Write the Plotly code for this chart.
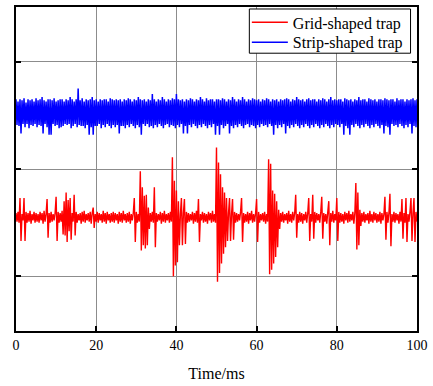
import plotly.graph_objects as go

# Time step of the sampled signals (ms)
red_dt = 0.25
blue_dt = 0.25

# Grid-shaped trap signal (arbitrary units)
grid_signal = [
    -41, -49, -40, -50, -27, -67, -42, -48, -27, -67, -40, -50, -41, -49, -39, -51, -42, -48, -40, -50,
    -41, -49, -42, -50, -40, -48, -41, -51, -39, -49, -42, -28, -64, -41, -50, -40, -49, -42, -48, -41,
    -26, -67, -40, -50, -41, -49, -39, -61, -30, -62, -22, -68, -29, -58, -27, -66, -41, -49, -24, -62,
    -40, -50, -42, -48, -41, -51, -40, -49, -39, -50, -42, -48, -41, -49, -40, -51, -41, -36, -55, -42,
    -49, -40, -50, -41, -48, -42, -50, -39, -49, -41, -51, -40, -48, -42, -50, -41, -49, -40, -50, -41,
    -48, -42, -51, -40, -49, -41, -50, -39, -48, -42, -50, -41, -49, -40, -51, -42, -48, -41, -27, -68,
    -40, -50, -42, -49, -2, -76, -17, -71, -25, -74, -24, -71, -36, -56, -41, -49, -40, -50, -17, -73,
    -41, -49, -42, -48, -40, -51, -41, -49, -39, -50, -42, -48, -41, -50, -40, -49, 11, -100, -11, -90,
    -20, -87, -30, -71, -42, -27, -71, -41, -28, -70, -40, -50, -41, -49, -42, -48, -40, -51, -41, -49,
    -39, -50, -28, -68, -42, -48, -40, -50, -41, -49, -42, -51, -40, -48, -41, -50, -39, -49, -42, -50,
    20, -105, 6, -97, -5, -88, -17, -79, -22, -73, -27, -67, -41, -27, -67, -42, -28, -66, -40, -50,
    -41, -49, -42, -48, -40, -27, -68, -41, -50, -42, -49, -40, -51, -41, -48, -39, -50, -42, -49, -41,
    -28, -68, -40, -50, -42, -48, -41, -49, -40, -51, -42, -49, 9, -98, 5, -94, -20, -88, -23, -82,
    -30, -73, -38, -56, -41, -49, -40, -50, -42, -48, -41, -51, -39, -49, -42, -50, -40, -48, -41, -24,
    -64, -42, -50, -40, -49, -41, -51, -42, -48, -40, -50, -41, -27, -67, -42, -49, -24, -65, -40, -50,
    -41, -48, -42, -50, -40, -26, -65, -41, -49, -42, -51, -40, -30, -71, -41, -49, -39, -50, -42, -48,
    -27, -67, -40, -50, -41, -49, -42, -51, -40, -48, -41, -50, -39, -49, -42, -48, -40, -51, -41, -13,
    -75, -22, -71, -38, -53, -41, -49, -40, -50, -42, -48, -41, -51, -39, -49, -42, -50, -40, -48, -41,
    -50, -42, -49, -40, -51, -41, -48, -42, -26, -66, -40, -50, -41, -23, -72, -42, -49, -40, -50, -41,
    -48, -42, -51, -40, -49, -28, -65, -41, -50, -27, -68, -42, -49, -40, -27, -67, -41, -27, -68, -40,
    -49,
]

# Strip-shaped trap signal (arbitrary units)
strip_signal = [
    65, 41, 63, 40, 65, 33, 64, 42, 66, 39, 62, 42, 65, 38, 64, 41, 65, 40, 63, 42,
    66, 39, 64, 41, 65, 40, 67, 33, 64, 42, 63, 39, 65, 32, 65, 32, 64, 42, 66, 40,
    63, 41, 64, 38, 65, 39, 65, 40, 63, 42, 65, 41, 64, 42, 67, 38, 65, 40, 63, 42,
    65, 39, 75, 41, 64, 40, 66, 40, 63, 38, 65, 41, 64, 32, 65, 39, 67, 32, 64, 40,
    65, 40, 63, 42, 65, 38, 64, 41, 65, 39, 65, 42, 63, 40, 66, 38, 65, 41, 64, 39,
    65, 41, 64, 33, 65, 40, 63, 40, 65, 38, 64, 41, 66, 39, 65, 42, 63, 40, 65, 38,
    64, 41, 67, 39, 65, 32, 64, 42, 65, 40, 63, 42, 65, 39, 64, 40, 70, 38, 65, 41,
    63, 39, 65, 42, 64, 40, 67, 38, 65, 41, 63, 42, 65, 39, 64, 41, 66, 40, 65, 38,
    70, 41, 65, 39, 64, 42, 65, 33, 63, 40, 65, 33, 64, 41, 66, 39, 65, 42, 63, 40,
    65, 38, 64, 41, 67, 39, 65, 42, 63, 40, 66, 38, 64, 41, 65, 39, 65, 42, 63, 32,
    65, 40, 65, 32, 64, 41, 66, 38, 65, 40, 63, 42, 65, 33, 64, 40, 67, 38, 65, 41,
    63, 39, 65, 42, 64, 40, 67, 38, 65, 41, 63, 42, 65, 39, 64, 41, 66, 40, 65, 38,
    64, 41, 65, 39, 63, 42, 65, 40, 64, 41, 66, 39, 65, 42, 63, 40, 65, 32, 64, 41,
    65, 38, 63, 41, 65, 39, 64, 42, 65, 33, 66, 40, 65, 38, 63, 41, 65, 39, 64, 42,
    67, 40, 65, 38, 64, 41, 65, 39, 63, 42, 65, 40, 66, 38, 64, 41, 65, 39, 65, 42,
    63, 40, 65, 38, 64, 41, 66, 39, 65, 42, 63, 40, 65, 38, 67, 41, 64, 39, 65, 42,
    64, 41, 65, 39, 65, 42, 63, 32, 66, 40, 65, 38, 64, 32, 65, 41, 63, 39, 65, 42,
    64, 40, 67, 38, 64, 41, 65, 39, 65, 42, 63, 40, 66, 38, 65, 41, 64, 39, 65, 42,
    63, 40, 65, 38, 65, 41, 64, 33, 66, 40, 65, 39, 64, 32, 65, 42, 65, 40, 63, 41,
    66, 39, 64, 42, 65, 40, 65, 38, 63, 41, 65, 39, 64, 42, 65, 33, 66, 40, 64, 39,
    65,
]

grid_time = [i * red_dt for i in range(len(grid_signal))]
strip_time = [i * blue_dt for i in range(len(strip_signal))]

series_names = ["Grid-shaped trap", "Strip-shaped trap"]
x_ticks = [0, 20, 40, 60, 80, 100]
y_ticks = [-100, 0, 100]

SERIF = "Liberation Serif"

fig = go.Figure()
fig.add_trace(go.Scatter(x=grid_time, y=grid_signal, mode="lines", name=series_names[0],
                         legend="legend",
                         line=dict(color="#ff0000", width=1.4, simplify=False)))
fig.add_trace(go.Scatter(x=strip_time, y=strip_signal, mode="lines", name=series_names[1],
                         legend="legend2",
                         line=dict(color="#0000ff", width=1.5, simplify=False)))

legend_common = dict(
    xanchor="left", yanchor="middle",
    bgcolor="rgba(0,0,0,0)", borderwidth=0,
    font=dict(family=SERIF, size=16, color="black"),
    itemwidth=36,
)
# paper coordinates of the plot area: x 16..419 px, y 5..331 px
fig.update_layout(
    width=433, height=386,
    margin=dict(l=16, r=14, t=5, b=55),
    paper_bgcolor="white", plot_bgcolor="white",
    font=dict(family=SERIF, color="black"),
    showlegend=True,
    legend=dict(x=(248 - 16) / 403, y=(331 - 20.5) / 326, **legend_common),
    legend2=dict(x=(248 - 16) / 403, y=(331 - 40.5) / 326, **legend_common),
    shapes=[dict(type="rect", xref="paper", yref="paper",
                 x0=(250.5 - 16) / 403, x1=(412.5 - 16) / 403,
                 y0=(331 - 51.5) / 326, y1=(331 - 7) / 326,
                 line=dict(color="black", width=1), fillcolor="white", layer="above")],
)
fig.update_xaxes(
    range=[0, 100], tickvals=x_ticks, ticktext=[str(v) for v in x_ticks],
    ticks="inside", ticklen=5, tickcolor="black", tickwidth=1.5,
    showline=True, linecolor="black", linewidth=1.5, mirror=True,
    showgrid=True, gridcolor="#8c8c8c", gridwidth=1, zeroline=False,
    tickfont=dict(family=SERIF, size=14, color="black"),
    title=dict(text="Time/ms", font=dict(family=SERIF, size=16, color="black"), standoff=16),
)
fig.update_yaxes(
    range=[-151, 151], tickvals=y_ticks, showticklabels=False,
    ticks="inside", ticklen=5, tickcolor="black", tickwidth=1.5,
    showline=True, linecolor="black", linewidth=1.5, mirror="ticks",
    showgrid=True, gridcolor="#8c8c8c", gridwidth=1, zeroline=False,
)

fig.write_html("out.html")
